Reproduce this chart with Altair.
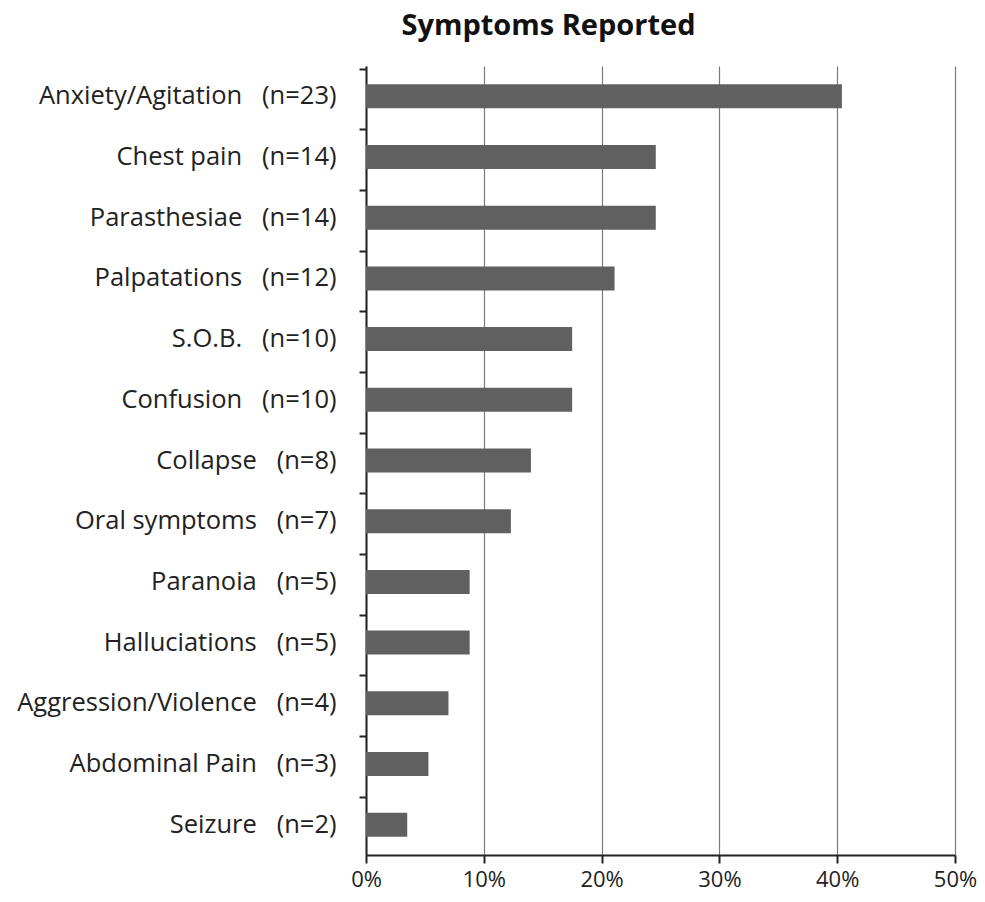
import altair as alt
import pandas as pd

symptoms = ["Anxiety/Agitation", "Chest pain", "Parasthesiae", "Palpatations", "S.O.B.",
            "Confusion", "Collapse", "Oral symptoms", "Paranoia", "Halluciations",
            "Aggression/Violence", "Abdominal Pain", "Seizure"]
counts = [23, 14, 14, 12, 10, 10, 8, 7, 5, 5, 4, 3, 2]
percent = [40.4, 24.6, 24.6, 21.1, 17.5, 17.5, 14.0, 12.3, 8.8, 8.8, 7.0, 5.3, 3.5]

labels = [f"{s}\u00a0\u00a0\u00a0(n={n})" for s, n in zip(symptoms, counts)]
df = pd.DataFrame({"label": labels, "pct": [p / 100 for p in percent]})

FONT = "Open Sans"

bars = alt.Chart(df).mark_bar(color="#606060", size=24).encode(
    x=alt.X("pct:Q", scale=alt.Scale(domain=[0, 0.5], nice=False),
            axis=alt.Axis(format="%", values=[0, 0.1, 0.2, 0.3, 0.4, 0.5], title=None,
                          grid=True, gridColor="#7a7a7a", gridWidth=1.2,
                          domainColor="#222222", domainWidth=2, tickColor="#222222",
                          tickWidth=2, tickSize=8, labelFontSize=22, labelFont=FONT,
                          labelColor="#222222", labelPadding=6, labelFlush=False)),
    y=alt.Y("label:N", sort=None,
            axis=alt.Axis(title=None, bandPosition=0, domainColor="#222222", domainWidth=2,
                          tickColor="#222222", tickWidth=2, tickSize=7,
                          labelFontSize=25.5, labelFont=FONT, labelColor="#222222",
                          labelPadding=23, labelLimit=0)),
)

chart = bars.properties(
    width=589, height=789,
    title=alt.TitleParams("Symptoms Reported", font=FONT, fontSize=29, fontWeight="bold",
                          color="#111111", dx=-112, offset=25),
    autosize=alt.AutoSizeParams(type="none"),
    padding={"left": 358, "top": 58, "right": 22, "bottom": 38},
).configure_view(stroke=None)

chart.save("out.html", embed_options={"renderer": "svg", "actions": False})
